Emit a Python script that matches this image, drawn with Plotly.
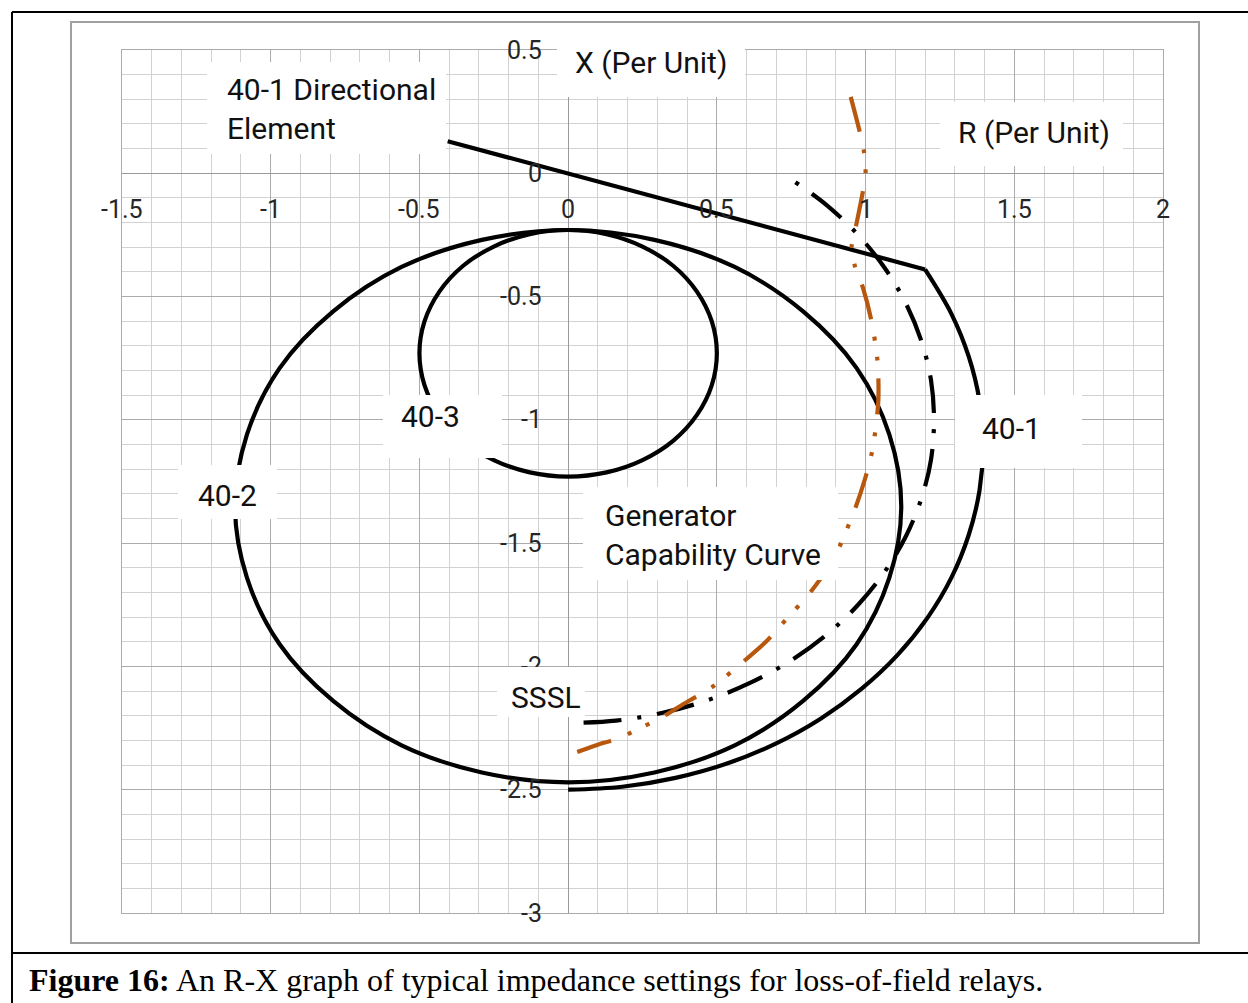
import plotly.graph_objects as go

# ---------------- data (R and X in per unit) ----------------
# 40-1 directional element (straight line)
dir_r = [-0.405, 1.20]
dir_x = [0.13, -0.39]

# 40-1 impedance element (arc below the directional line)
r401_r = [1.20, 1.289, 1.347, 1.383, 1.395, 1.383, 1.347, 1.289, 1.208, 1.107, 0.986, 0.849,
          0.698, 0.534, 0.361, 0.182, 0.0]
r401_x = [-0.39, -0.571, -0.744, -0.923, -1.105, -1.287, -1.466, -1.639, -1.803, -1.954, -2.091,
          -2.212, -2.313, -2.394, -2.452, -2.488, -2.50]

# 40-2 element (closed characteristic)
r402_r = [-1.12, -1.08, -0.97, -0.79, -0.56, -0.29, 0.0, 0.29, 0.56, 0.79, 0.97, 1.08,
          1.12, 1.08, 0.97, 0.79, 0.56, 0.29, 0.0, -0.29, -0.56, -0.79, -0.97, -1.08, -1.12]
r402_x = [-1.35, -1.64, -1.91, -2.14, -2.32, -2.43, -2.47, -2.43, -2.32, -2.14, -1.91, -1.64,
          -1.35, -1.06, -0.79, -0.56, -0.38, -0.27, -0.23, -0.27, -0.38, -0.56, -0.79, -1.06, -1.35]

# 40-3 element (closed characteristic)
r403_r = [-0.433, -0.354, -0.25, -0.129, 0.0, 0.129, 0.25, 0.354, 0.433, 0.483, 0.5, 0.483,
          0.433, 0.354, 0.25, 0.129, 0.0, -0.129, -0.25, -0.354, -0.433, -0.483, -0.5, -0.483, -0.433]
r403_x = [-0.98, -1.084, -1.163, -1.213, -1.23, -1.213, -1.163, -1.084, -0.98, -0.859, -0.73, -0.601,
          -0.48, -0.376, -0.297, -0.247, -0.23, -0.247, -0.297, -0.376, -0.48, -0.601, -0.73, -0.859, -0.98]

# Steady-state stability limit
sssl_r = [0.764, 0.87, 0.975, 1.065, 1.136, 1.188, 1.22, 1.23, 1.22, 1.188, 1.136, 1.065, 0.975,
          0.87, 0.749, 0.615, 0.471, 0.318, 0.161, 0.0]
sssl_x = [-0.036, -0.13, -0.25, -0.385, -0.529, -0.682, -0.839, -1.0, -1.161, -1.318, -1.471,
          -1.615, -1.75, -1.87, -1.976, -2.065, -2.136, -2.188, -2.22, -2.23]

# Generator capability curve
gcc_r = [0.95, 0.98, 0.995, 1.0, 0.99, 0.965, 0.953, 0.965, 0.99, 1.02, 1.04, 1.043, 1.03, 1.018,
         0.998, 0.965, 0.935, 0.91, 0.845, 0.80, 0.755, 0.71, 0.665, 0.57, 0.52, 0.465, 0.405,
         0.295, 0.24, 0.175, 0.12, 0.0]
gcc_x = [0.31, 0.17, 0.085, 0.0, -0.08, -0.23, -0.30, -0.38, -0.46, -0.60, -0.76, -0.92, -1.07, -1.15,
         -1.24, -1.36, -1.45, -1.52, -1.65, -1.72, -1.78, -1.84, -1.90, -2.00, -2.05, -2.10, -2.14,
         -2.22, -2.25, -2.29, -2.31, -2.36]

# tick labels
x_tick_vals = [-1.5, -1, -0.5, 0, 0.5, 1, 1.5, 2]
x_tick_text = ["-1.5", "-1", "-0.5", "0", "0.5", "1", "1.5", "2"]
y_tick_vals = [0.5, 0, -0.5, -1, -1.5, -2, -2.5, -3]
y_tick_text = ["0.5", "0", "-0.5", "-1", "-1.5", "-2", "-2.5", "-3"]

# label texts
label_texts = ["40-1 Directional<br>Element", "X (Per Unit)", "R (Per Unit)", "40-3",
               "40-2", "40-1", "Generator<br>Capability Curve", "SSSL"]

caption = "<b>Figure 16:</b> An R-X graph of typical impedance settings for loss-of-field relays."

# ---------------- layout / placement (not data) ----------------
# (box centre R, box centre X, box w px, box h px, text R, text X, text anchor)
label_layout = [
    (-0.812, 0.264, 239, 92, -1.153, 0.262, "left"),
    (0.279, 0.444, 188, 67, 0.279, 0.450, "center"),
    (1.558, 0.158, 183, 64, 1.567, 0.166, "center"),
    (-0.422, -1.028, 119, 63, -0.464, -0.985, "center"),
    (-1.145, -1.294, 99, 54, -1.145, -1.306, "center"),
    (1.515, -1.048, 127, 73, 1.490, -1.034, "center"),
    (0.479, -1.462, 255, 93, 0.118, -1.468, "left"),
    (-0.091, -2.105, 88, 50, -0.074, -2.125, "center"),
]

W, H = 1248, 1003
ML, MR, MT, MB = 122, 85, 50, 90
PW, PH = W - ML - MR, H - MT - MB


def px(p):  # page pixel -> paper x
    return (p - ML) / PW


def py(p):  # page pixel -> paper y
    return (H - MB - p) / PH


BLACK = "#000000"
ORANGE = "#B8580F"
LW = 4.2

fig = go.Figure()
common = dict(mode="lines", hoverinfo="skip", showlegend=False)
fig.add_trace(go.Scatter(x=r402_r, y=r402_x, line=dict(color=BLACK, width=LW, shape="spline", smoothing=1), **common))
fig.add_trace(go.Scatter(x=r403_r, y=r403_x, line=dict(color=BLACK, width=LW, shape="spline", smoothing=1), **common))
fig.add_trace(go.Scatter(x=r401_r, y=r401_x, line=dict(color=BLACK, width=LW, shape="spline", smoothing=1), **common))
fig.add_trace(go.Scatter(x=dir_r, y=dir_x, line=dict(color=BLACK, width=LW), **common))
fig.add_trace(go.Scatter(x=sssl_r, y=sssl_x,
                         line=dict(color=BLACK, width=LW, shape="spline", smoothing=1,
                                   dash="4px,16px,38px,16px"), **common))
fig.add_trace(go.Scatter(x=gcc_r, y=gcc_x,
                         line=dict(color=ORANGE, width=LW, shape="spline", smoothing=0.8,
                                   dash="36px,18px,4px,16px,4px,18px"), **common))

tick_font = dict(family="Roboto", size=25, color="#262626")
label_font = dict(family="Roboto", size=30, color="#111111")

annotations = []
for v, t in zip(x_tick_vals, x_tick_text):
    annotations.append(dict(x=v, y=0, xref="x", yref="y", text=t, showarrow=False,
                            xanchor="center", yanchor="middle", yshift=-36, font=tick_font))
for v, t in zip(y_tick_vals, y_tick_text):
    annotations.append(dict(x=0, y=v, xref="x", yref="y", text=t, showarrow=False,
                            xanchor="right", yanchor="middle", xshift=-24, font=tick_font))
for t, (bx, by, bw, bh, tx, ty, anc) in zip(label_texts, label_layout):
    annotations.append(dict(x=bx, y=by, xref="x", yref="y", text=" ", showarrow=False,
                            xanchor="center", yanchor="middle", width=bw, height=bh,
                            bgcolor="white", borderpad=0, borderwidth=0))
    annotations.append(dict(x=tx, y=ty, xref="x", yref="y", text=t, showarrow=False,
                            xanchor=anc, yanchor="middle", align="left", font=label_font))
annotations.append(dict(x=px(27), y=py(980), xref="paper", yref="paper", text=caption,
                        showarrow=False, xanchor="left", yanchor="middle",
                        font=dict(family="Liberation Serif", size=32, color="black")))

shapes = [
    # chart area border (gray)
    dict(type="rect", xref="paper", yref="paper", x0=px(71), x1=px(1199), y0=py(943), y1=py(22),
         line=dict(color="#A0A0A0", width=2), fillcolor="rgba(0,0,0,0)", layer="below"),
    # outer black frame
    dict(type="line", xref="paper", yref="paper", x0=px(12), x1=px(1260), y0=py(12), y1=py(12),
         line=dict(color="black", width=2)),
    dict(type="line", xref="paper", yref="paper", x0=px(12), x1=px(12), y0=py(12), y1=py(1010),
         line=dict(color="black", width=2)),
    dict(type="line", xref="paper", yref="paper", x0=px(12), x1=px(1260), y0=py(953), y1=py(953),
         line=dict(color="black", width=2)),
]

axis_common = dict(showgrid=True, gridcolor="#ABABAB", gridwidth=1, zeroline=True,
                   zerolinecolor="#9A9A9A", zerolinewidth=1, showticklabels=False, ticks="",
                   showline=True, mirror=True, linecolor="#ABABAB", linewidth=1, fixedrange=True)
fig.update_xaxes(range=[-1.5, 2], dtick=0.5, tick0=0,
                 minor=dict(dtick=0.1, tick0=0, showgrid=True, gridcolor="#D2D2D2", gridwidth=1),
                 **axis_common)
fig.update_yaxes(range=[-3, 0.5], dtick=0.5, tick0=0,
                 minor=dict(dtick=0.1, tick0=0, showgrid=True, gridcolor="#D2D2D2", gridwidth=1),
                 **axis_common)

fig.update_layout(width=W, height=H, margin=dict(l=ML, r=MR, t=MT, b=MB, pad=0),
                  paper_bgcolor="white", plot_bgcolor="white", showlegend=False,
                  annotations=annotations, shapes=shapes)

fig.write_html("out.html", config={"displayModeBar": False},
               post_script="document.body.style.margin='0';document.body.style.overflow='hidden';")
